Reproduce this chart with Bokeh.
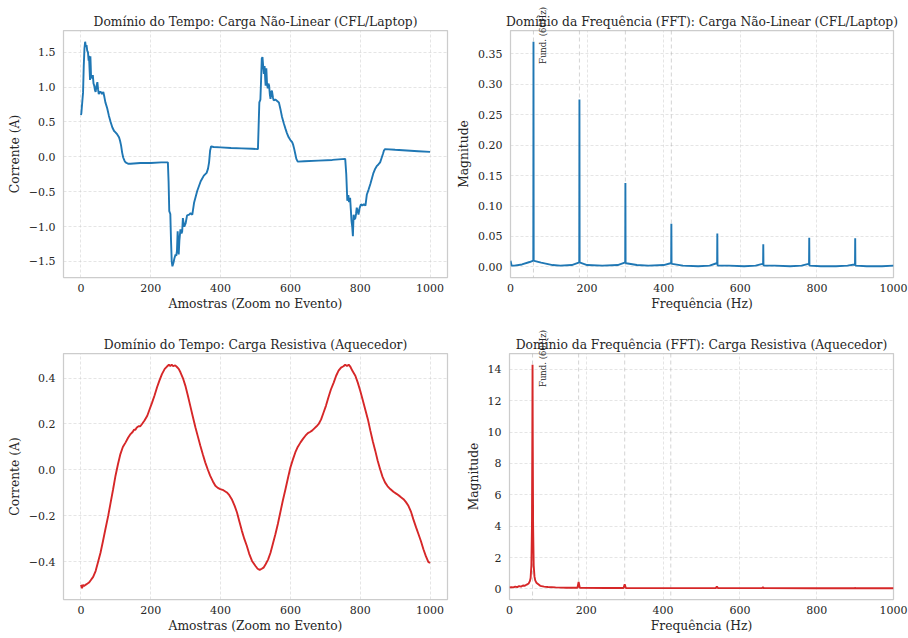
from math import pi
from bokeh.plotting import figure
from bokeh.layouts import column, row
from bokeh.models import Range1d, FixedTicker, CustomJSTickFormatter, Span, Div
from bokeh.embed import file_html
from bokeh.resources import INLINE

# ---------------- data ----------------
# Non-linear load (CFL/Laptop), time domain
nl_samples = [0, 1, 4, 6, 8, 10, 12, 14, 16, 18, 20, 22, 23, 25, 26, 27, 28, 29, 31, 33,
              34, 36, 38, 40, 42, 44, 47, 49, 51, 54, 57, 60, 64, 67, 70, 75, 80, 85, 90, 95,
              99, 104, 109, 112, 115, 118, 121, 125, 128, 135, 142, 170, 200, 230, 249, 251, 253, 256, 258, 260,
              262, 265, 268, 271, 273, 275, 277, 279, 280, 282, 285, 288, 290, 292, 294, 296, 300, 304, 310, 314,
              319, 324, 333, 343, 352, 360, 364, 367, 370, 373, 380, 400, 430, 460, 490, 507, 509, 511, 514, 516,
              518, 520, 522, 524, 526, 528, 529, 531, 533, 535, 537, 539, 541, 543, 545, 547, 550, 552, 557, 562,
              567, 572, 576, 581, 586, 590, 595, 600, 605, 608, 611, 614, 617, 621, 640, 680, 720, 757, 760, 763,
              766, 768, 771, 773, 775, 777, 779, 781, 783, 786, 788, 790, 793, 795, 798, 802, 806, 810, 815, 819,
              824, 829, 834, 838, 843, 848, 852, 857, 861, 865, 868, 871, 900, 933, 966, 1000]
nl_current = [0.60, 0.62, 0.80, 0.92, 1.30, 1.55, 1.65, 1.58, 1.60, 1.52, 1.50, 1.38, 1.45, 1.22, 1.10, 1.44, 1.30, 1.13, 1.15, 1.12,
              1.17, 1.05, 1.02, 0.96, 0.93, 1.00, 1.07, 0.97, 0.90, 0.93, 0.93, 0.90, 0.93, 0.86, 0.78, 0.70, 0.59, 0.50, 0.42, 0.37,
              0.35, 0.32, 0.28, 0.23, 0.16, 0.06, -0.01, -0.06, -0.08, -0.10, -0.10, -0.09, -0.09, -0.08, -0.08, -0.35, -0.78, -0.82, -1.20, -1.50,
              -1.57, -1.52, -1.45, -1.40, -1.42, -1.35, -1.07, -1.25, -1.40, -1.20, -1.04, -1.10, -1.07, -0.88, -0.95, -1.00, -0.95, -0.84, -0.83, -0.81,
              -0.83, -0.66, -0.49, -0.35, -0.27, -0.23, -0.17, -0.08, 0.09, 0.15, 0.14, 0.135, 0.125, 0.12, 0.115, 0.11, 0.45, 0.78, 0.82, 1.10,
              1.41, 1.43, 1.30, 1.19, 1.30, 1.10, 1.02, 1.27, 1.05, 0.98, 1.05, 1.02, 0.90, 0.83, 0.92, 0.95, 0.85, 0.81, 0.82, 0.80,
              0.78, 0.67, 0.57, 0.48, 0.40, 0.34, 0.28, 0.24, 0.21, 0.17, 0.11, 0.04, -0.03, -0.07, -0.065, -0.055, -0.045, -0.03, -0.25, -0.63,
              -0.55, -0.65, -0.59, -0.75, -0.92, -1.00, -1.14, -0.83, -0.90, -0.88, -0.82, -0.73, -0.78, -0.83, -0.74, -0.68, -0.70, -0.68, -0.70, -0.54,
              -0.47, -0.39, -0.30, -0.23, -0.17, -0.13, -0.11, -0.08, -0.02, 0.04, 0.09, 0.11, 0.10, 0.09, 0.08, 0.07]

# Non-linear load, FFT magnitude
nl_freq = [0, 3, 10, 30, 50, 58, 59.5, 60, 60.5, 62, 80, 110, 130, 160, 178, 179.5, 180, 180.5, 182, 200,
           240, 280, 298, 299.5, 300, 300.5, 302, 330, 360, 400, 418, 419.5, 420, 420.5, 422, 450, 490, 520, 538, 539.5,
           540, 540.5, 542, 570, 610, 640, 658, 659.5, 660, 660.5, 662, 690, 730, 760, 778, 779.5, 780, 780.5, 782, 810,
           850, 880, 898, 899.5, 900, 900.5, 902, 930, 970, 1000]
nl_mag = [0.010, 0.002, 0.002, 0.004, 0.008, 0.010, 0.011, 0.370, 0.011, 0.010, 0.007, 0.003, 0.002, 0.003, 0.007, 0.008, 0.275, 0.008, 0.007, 0.003,
          0.002, 0.003, 0.007, 0.008, 0.138, 0.007, 0.006, 0.003, 0.002, 0.003, 0.006, 0.007, 0.071, 0.006, 0.005, 0.002,
          0.001, 0.002, 0.006, 0.007, 0.055, 0.003, 0.002, 0.002, 0.001, 0.002, 0.005, 0.006, 0.037, 0.003, 0.002, 0.002,
          0.001, 0.002, 0.005, 0.006, 0.048, 0.002, 0.002, 0.001, 0.001, 0.002, 0.004, 0.005, 0.047, 0.002, 0.002, 0.001, 0.001, 0.002]

# Resistive load (heater), time domain
rs_samples = [0, 3, 6, 9, 13, 18, 23, 28, 35, 42, 49, 56, 63, 70, 78, 85, 92, 99, 106, 113,
              120, 128, 135, 142, 148, 152, 156, 160, 165, 170, 175, 182, 190, 197, 204, 211, 218, 225, 232, 240,
              247, 252, 256, 260, 264, 270, 275, 280, 285, 292, 299, 306, 313, 320, 328, 335, 342, 349, 356, 363,
              370, 378, 385, 392, 399, 408, 418, 425, 432, 440, 447, 454, 461, 468, 475, 482, 490, 500, 506, 512,
              518, 523, 529, 536, 543, 550, 557, 564, 571, 578, 586, 593, 600, 607, 614, 621, 629, 636, 643, 650,
              656, 662, 668, 675, 681, 688, 695, 702, 709, 716, 724, 731, 738, 745, 752, 757, 762, 767, 771, 778,
              786, 793, 800, 807, 814, 822, 829, 836, 843, 850, 857, 864, 871, 878, 886, 895, 905, 914, 924, 931,
              938, 945, 952, 960, 967, 974, 981, 988, 995, 1000]
rs_current = [-0.50, -0.515, -0.50, -0.505, -0.50, -0.495, -0.49, -0.48, -0.465, -0.44, -0.40, -0.36, -0.31, -0.258, -0.20, -0.142, -0.085, -0.025, 0.025, 0.069,
              0.10, 0.12, 0.14, 0.156, 0.165, 0.175, 0.175, 0.185, 0.19, 0.19, 0.20, 0.215, 0.236, 0.265, 0.294, 0.325, 0.36, 0.39, 0.417, 0.44,
              0.451, 0.458, 0.452, 0.458, 0.452, 0.455, 0.448, 0.44, 0.425, 0.40, 0.367, 0.325, 0.28, 0.235, 0.185, 0.145, 0.105, 0.068, 0.033, 0.003,
              -0.025, -0.05, -0.069, -0.078, -0.083, -0.088, -0.098, -0.11, -0.127, -0.155, -0.185, -0.225, -0.265, -0.30, -0.33, -0.365, -0.396, -0.418, -0.43, -0.435,
              -0.43, -0.425, -0.41, -0.39, -0.36, -0.32, -0.28, -0.235, -0.185, -0.135, -0.083, -0.035, 0.011, 0.045, 0.076, 0.10, 0.12, 0.135, 0.149, 0.16,
              0.165, 0.171, 0.18, 0.19, 0.20, 0.22, 0.25, 0.28, 0.316, 0.35, 0.38, 0.41, 0.432, 0.445, 0.451, 0.458, 0.452, 0.458, 0.451, 0.43,
              0.41, 0.38, 0.345, 0.305, 0.265, 0.22, 0.171, 0.125, 0.084, 0.04, 0.003, -0.03, -0.054, -0.07, -0.083, -0.095, -0.105, -0.115, -0.127, -0.14,
              -0.156, -0.18, -0.214, -0.25, -0.28, -0.31, -0.345, -0.375, -0.40, -0.405]

# Resistive load, FFT magnitude
rs_freq = [0, 5, 10, 15, 20, 25, 30, 35, 40, 45, 50, 53, 55, 57, 58.5, 59.5, 60, 60.5, 61.5, 63,
           65, 67, 70, 75, 80, 90, 100, 120, 150, 177, 180, 183, 250, 297, 300, 303, 400, 537, 540, 543,
           657, 660, 663, 800, 897, 900, 903, 1000]
rs_mag = [0.10, 0.12, 0.10, 0.15, 0.12, 0.18, 0.15, 0.22, 0.20, 0.28, 0.35, 0.50, 0.70, 1.50, 4.00, 10.0, 14.3, 10.0, 4.00, 1.50,
          0.80, 0.55, 0.40, 0.30, 0.20, 0.15, 0.12, 0.10, 0.08, 0.08, 0.45, 0.08, 0.06, 0.06, 0.30, 0.06, 0.05, 0.05, 0.15, 0.05,
          0.05, 0.10, 0.05, 0.04, 0.04, 0.06, 0.04, 0.04]

harmonic_lines = [60, 180, 300, 420]
fund_label = "Fund. (60Hz)"
fund_label_x = 75  # Hz

time_xticks = [0, 200, 400, 600, 800, 1000]
freq_xticks = [0, 200, 400, 600, 800, 1000]
nl_time_yticks = [-1.5, -1.0, -0.5, 0.0, 0.5, 1.0, 1.5]
nl_fft_yticks = [0.00, 0.05, 0.10, 0.15, 0.20, 0.25, 0.30, 0.35]
rs_time_yticks = [-0.4, -0.2, 0.0, 0.2, 0.4]
rs_fft_yticks = [0, 2, 4, 6, 8, 10, 12, 14]

BLUE = "#1f77b4"
RED = "#d62728"
FONT = "DejaVu Serif"
TXT = "#262626"

FIG_W, FIG_H = 454, 319
FRAME_W, FRAME_H_TOP, FRAME_H_BOT = 384, 247, 246


def fmt(dec):
    return CustomJSTickFormatter(args=dict(d=dec), code="""
        let t = Math.abs(tick) < 1e-12 ? 0 : tick;
        return t.toFixed(d).replace('-', '\u2212');
    """)


def padded(vals, frac=0.05):
    lo, hi = min(vals), max(vals)
    pad = (hi - lo) * frac
    return lo - pad, hi + pad


def make_fig(title, xr, yr, xticks, yticks, ydec, xlabel, ylabel, left, right, top, bottom):
    p = figure(width=FIG_W, height=FIG_H, x_range=Range1d(*xr), y_range=Range1d(*yr),
               output_backend="svg", toolbar_location=None,
               min_border_left=left, min_border_right=right, min_border_top=top, min_border_bottom=bottom)
    p.title.text = title
    p.title.align = "center"
    p.title.text_font = FONT
    p.title.text_font_size = "12.3px"
    p.title.text_font_style = "normal"
    p.title.text_color = TXT
    p.title.standoff = 3
    p.outline_line_color = "#cccccc"
    p.outline_line_width = 1.25
    p.background_fill_color = "white"
    p.border_fill_color = "white"
    for ax in (p.xaxis[0], p.yaxis[0]):
        ax.axis_line_color = None
        ax.major_tick_line_color = None
        ax.minor_tick_line_color = None
        ax.major_tick_out = 0
        ax.major_tick_in = 0
        ax.minor_tick_out = 0
        ax.minor_tick_in = 0
        ax.major_label_text_font = FONT
        ax.major_label_text_font_size = "11px"
        ax.major_label_text_color = TXT
        ax.axis_label_text_font = FONT
        ax.axis_label_text_font_size = "12.3px"
        ax.axis_label_text_font_style = "normal"
        ax.axis_label_text_color = TXT
    p.xaxis[0].ticker = FixedTicker(ticks=xticks)
    p.yaxis[0].ticker = FixedTicker(ticks=yticks)
    p.xaxis[0].formatter = fmt(0)
    p.yaxis[0].formatter = fmt(ydec)
    p.xaxis[0].axis_label = xlabel
    p.yaxis[0].axis_label = ylabel
    p.xaxis[0].major_label_standoff = 6
    p.yaxis[0].major_label_standoff = 8
    p.xaxis[0].axis_label_standoff = 2
    p.yaxis[0].axis_label_standoff = 4
    for g in (p.xgrid[0], p.ygrid[0]):
        g.grid_line_color = "#cccccc"
        g.grid_line_alpha = 0.65
        g.grid_line_dash = "3 2"
        g.grid_line_width = 0.8
    return p


def fund_div(fig_left, frame_left, frame_top, frame_h, yr, peak):
    # place rotated label at data point (fund_label_x, 0.9*peak) of the right-hand FFT panel
    sx = fig_left + frame_left + (fund_label_x - 0) / 1000 * FRAME_W
    sy = frame_top + (yr[1] - 0.9 * peak) / (yr[1] - yr[0]) * frame_h
    return Div(text=fund_label, width=70, height=11, styles={
        "position": "absolute", "left": f"{sx:.1f}px", "top": f"{sy:.1f}px",
        "transform": "rotate(-90deg)", "transform-origin": "0 0",
        "font-family": FONT, "font-size": "8.5px", "line-height": "11px",
        "color": TXT, "white-space": "nowrap", "margin": "0", "padding": "0",
        "z-index": "10", "pointer-events": "none"})


# top-left
p1 = make_fig("Domínio do Tempo: Carga Não-Linear (CFL/Laptop)",
              padded(nl_samples), padded(nl_current), time_xticks, nl_time_yticks, 1,
              "Amostras (Zoom no Evento)", "Corrente (A)", 63, 7, 30, 42)
p1.line(nl_samples, nl_current, line_color=BLUE, line_width=1.9)

# top-right
nl_yr = padded(nl_mag)
p2 = make_fig("Domínio da Frequência (FFT): Carga Não-Linear (CFL/Laptop)",
              (0, 1000), nl_yr, freq_xticks, nl_fft_yticks, 2,
              "Frequência (Hz)", "Magnitude", 55, 15, 30, 42)
for h in harmonic_lines:
    p2.add_layout(Span(location=h, dimension="height", line_color="#aaaaaa", line_alpha=0.5,
                       line_dash="4 3", line_width=1, level="underlay"))
p2.line(nl_freq, nl_mag, line_color=BLUE, line_width=1.9)

# bottom-left
p3 = make_fig("Domínio do Tempo: Carga Resistiva (Aquecedor)",
              padded(rs_samples), padded(rs_current), time_xticks, rs_time_yticks, 1,
              "Amostras (Zoom no Evento)", "Corrente (A)", 63, 7, 34, 39)
p3.line(rs_samples, rs_current, line_color=RED, line_width=1.9)

# bottom-right
rs_yr = padded(rs_mag)
p4 = make_fig("Domínio da Frequência (FFT): Carga Resistiva (Aquecedor)",
              (0, 1000), rs_yr, freq_xticks, rs_fft_yticks, 0,
              "Frequência (Hz)", "Magnitude", 55, 15, 34, 39)
for h in harmonic_lines:
    p4.add_layout(Span(location=h, dimension="height", line_color="#aaaaaa", line_alpha=0.5,
                       line_dash="4 3", line_width=1, level="underlay"))
p4.line(rs_freq, rs_mag, line_color=RED, line_width=1.9)

d1 = fund_div(FIG_W, 55, 30, FRAME_H_TOP, nl_yr, max(nl_mag))
d2 = fund_div(FIG_W, 55, FIG_H + 34, FRAME_H_BOT, rs_yr, max(rs_mag))

layout = column(row(p1, p2), row(p3, p4), d1, d2)
open("out.html", "w").write(file_html(layout, INLINE))
